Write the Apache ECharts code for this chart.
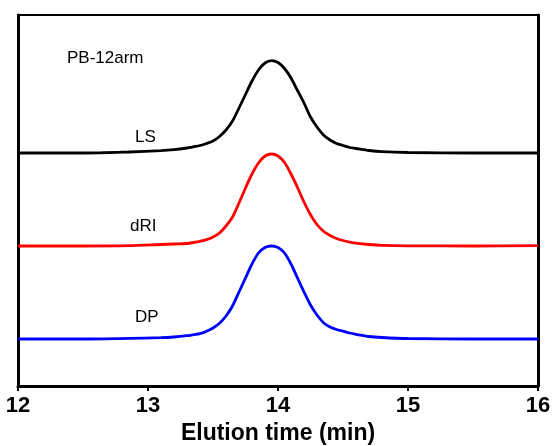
<!DOCTYPE html>
<html>
<head>
<meta charset="utf-8">
<script src="https://cdn.jsdelivr.net/npm/echarts@6/dist/echarts.min.js"></script>
<style>
  html, body { margin: 0; padding: 0; background: #fff; }
</style>
</head>
<body>
<div id="main" style="width: 552px; height: 446px"></div>
<script>
// elution time (min), shared by the three traces
var times = [12.0, 12.5, 12.85, 13.1, 13.2,
  13.30, 13.35, 13.40, 13.45, 13.50, 13.55, 13.60, 13.65, 13.70, 13.75, 13.80, 13.85,
  13.90, 13.95, 14.00, 14.05, 14.10, 14.15, 14.20, 14.25, 14.30, 14.35, 14.40, 14.45,
  14.50, 14.55, 14.60,
  14.7, 14.8, 15.0, 15.5, 16.0];
// detector signals (arbitrary units, stacked with offsets like the figure)
var lsValues = [233, 233, 234, 235.3, 236.3,
  238, 239.2, 240.5, 242.5, 245, 249.5, 256, 265, 278, 291.5, 305, 316,
  323, 325.3, 323.5, 317.5, 308, 295.5, 283, 269, 259, 251, 246, 242.5,
  240.5, 238.5, 237.5,
  235.5, 234.3, 233.5, 233, 233];
var driValues = [140, 140, 140.3, 141.5, 142,
  142.5, 143.5, 144.7, 146.3, 149, 153, 160, 169, 183, 198, 212, 223,
  230, 232, 230, 223.5, 212, 198.5, 184, 171.3, 161.5, 154.7, 150.5, 147.5,
  145.5, 144, 142.8,
  141.5, 140.7, 140.2, 140, 140.3];
var dpValues = [47, 47, 47.7, 48.3, 49,
  50.3, 51.3, 52.3, 54.8, 58, 62.7, 70, 80, 94, 108, 122, 133,
  138.5, 140, 138.5, 133, 122, 108, 94, 81, 71, 63.3, 59, 56.5,
  54.8, 53, 51.7,
  49.5, 48.5, 47.5, 47, 47];
var xTicks = [12, 13, 14, 15, 16];

function pairs(vals) {
  var out = [];
  for (var i = 0; i < times.length; i++) out.push([times[i], vals[i]]);
  return out;
}

var myChart = echarts.init(document.getElementById("main"));
var font = "Liberation Sans, Arial, sans-serif";

function trace(name, color, vals) {
  return {
    name: name, type: "line", smooth: 0.3, symbol: "none",
    lineStyle: { color: color, width: 2.8 },
    data: pairs(vals)
  };
}

var option = {
  animation: false,
  backgroundColor: "#fff",
  grid: {
    left: 18, right: 14, top: 15, bottom: 60,
    outerBoundsMode: "none",
    containLabel: false,
    show: true, borderColor: "#000", borderWidth: 2
  },
  xAxis: {
    type: "value",
    min: xTicks[0],
    max: xTicks[xTicks.length - 1],
    interval: 1,
    name: "Elution time (min)",
    nameLocation: "middle",
    nameGap: 33,
    nameTextStyle: { fontFamily: font, fontSize: 23, fontWeight: "bold", color: "#000" },
    axisLine: { show: true, lineStyle: { color: "#000", width: 3 } },
    axisTick: { show: true, inside: false, length: 5, lineStyle: { color: "#000", width: 2 } },
    axisLabel: { fontFamily: font, fontSize: 22, fontWeight: "bold", color: "#000", margin: 9 },
    splitLine: { show: false }
  },
  yAxis: [
    {
      type: "value", min: 0, max: 371,
      axisLine: { show: true, lineStyle: { color: "#000", width: 3 } },
      axisTick: { show: false },
      axisLabel: { show: false },
      splitLine: { show: false }
    },
    {
      type: "value", min: 0, max: 371, position: "right",
      axisLine: { show: true, lineStyle: { color: "#000", width: 3 } },
      axisTick: { show: false },
      axisLabel: { show: false },
      splitLine: { show: false }
    }
  ],
  series: [
    trace("LS", "#000000", lsValues),
    trace("dRI", "#ff0000", driValues),
    trace("DP", "#0000ff", dpValues)
  ],
  graphic: [
    { type: "text", left: 67, top: 50, style: { text: "PB-12arm", font: "17px " + font, fill: "#000" } },
    { type: "text", left: 135, top: 129, style: { text: "LS", font: "17px " + font, fill: "#000" } },
    { type: "text", left: 130, top: 218, style: { text: "dRI", font: "17px " + font, fill: "#000" } },
    { type: "text", left: 135, top: 309, style: { text: "DP", font: "17px " + font, fill: "#000" } }
  ]
};

myChart.setOption(option);
</script>
</body>
</html>
